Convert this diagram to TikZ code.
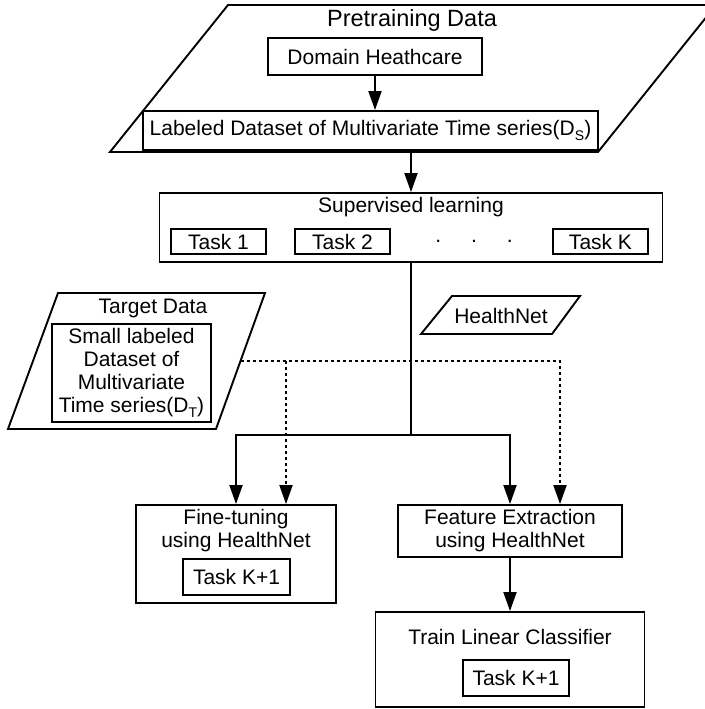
\documentclass[tikz,border=0pt]{standalone}
\usepackage{fontspec}
\setmainfont{Liberation Sans}
\usetikzlibrary{arrows.meta}

\newcommand{\lowsub}[1]{\raisebox{-5pt}{\fontsize{14}{14}\selectfont #1}}

\tikzset{
	box/.style={draw, rectangle},
	flow/.style={-{Triangle[length=19pt,width=13pt]}},
	feed/.style={flow, dash pattern=on 3pt off 3pt}
}

\begin{document}
\begin{tikzpicture}[x=1pt, y=-1pt, line width=1.9pt,
	every node/.style={font=\fontsize{21}{23}\selectfont, inner sep=0pt, align=center}]
	\useasboundingbox (0,0) rectangle (704,709);
	% pretraining data
	\draw (110,152) -- (228,5) -- (716,5) -- (598,152) -- cycle;
	\node[font=\fontsize{23.5}{26}\selectfont] (pretitle) at (412,20) {Pretraining Data};
	\node[box, minimum width=214pt, minimum height=37pt] (dom) at (375,56.5) {Domain Heathcare};
	\node[box, minimum width=455pt, minimum height=39pt] (lab) at (370.5,130.5) {Labeled Dataset of Multivariate Time series(D\lowsub{S})};
	\coordinate (pre) at (411,152);
	\draw[flow] (dom.south) -- (dom.south |- lab.north);
	% supervised learning
	\node[box, minimum width=503pt, minimum height=69pt] (sup) at (411,227.5) {};
	\node (suptitle) at (411,207) {Supervised learning};
	\node[box, minimum width=95pt, minimum height=25pt] (task1) at (218.5,241.5) {Task 1};
	\node[box, minimum width=95pt, minimum height=25pt] (task2) at (342.5,241.5) {Task 2};
	\node (dots) at (474,241) {.\hspace{30pt}.\hspace{30pt}.};
	\node[box, minimum width=95pt, minimum height=25pt] (taskk) at (600.5,241.5) {Task K};
	\draw[flow] (pre) -- (sup.north);
	% target data
	\draw (8,429) -- (58,293) -- (265,293) -- (216,429) -- cycle;
	\node (tgttitle) at (153,308) {Target Data};
	\node[box, minimum width=159pt, minimum height=98pt] (small) at (131.5,373) {Small labeled\\Dataset of\\Multivariate\\Time series(D\lowsub{T})};
	\coordinate (tgt) at (240.5,361);
	\coordinate (fork) at (286,361);
	% healthnet
	\draw (452,296) -- (580,296) -- (552,334) -- (421,334) -- cycle;
	\node (hn) at (501,316) {HealthNet};
	% transfer
	\node[box, minimum width=200pt, minimum height=98pt] (ft) at (236,554) {};
	\node (fttitle) at (236,531) {Fine-tuning\\using HealthNet};
	\node[box, minimum width=107pt, minimum height=36pt] (ftk) at (236.5,577) {Task K+1};
	\node[box, minimum width=224pt, minimum height=52pt] (fe) at (510,531) {Feature Extraction\\using HealthNet};
	\node[box, minimum width=269pt, minimum height=95pt] (lin) at (510,659.5) {};
	\node (lintitle) at (510,637) {Train Linear Classifier};
	\node[box, minimum width=106pt, minimum height=36pt] (link) at (516,678) {Task K+1};
	\coordinate (split) at (411,435);
	\draw (sup.south) -- (split);
	\draw[flow] (split) -| (ft.north);
	\draw[flow] (split) -| (fe.north);
	\draw[feed] (tgt) -| ([xshift=50pt]fe.north);
	\draw[feed] (fork) -- (fork |- ft.north);
	\draw[flow] (fe.south) -- (lin.north);
\end{tikzpicture}
\end{document}
